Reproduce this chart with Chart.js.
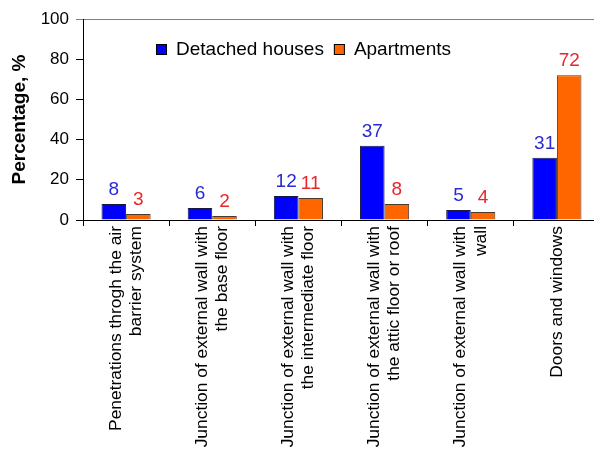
<!DOCTYPE html>
<html>
<head>
<meta charset="utf-8">
<script src="https://cdn.jsdelivr.net/npm/chart.js@4"></script>
<style>
html, body { margin: 0; padding: 0; background: #fff; overflow: hidden; }
#wrap { width: 600px; height: 450px; }
</style>
</head>
<body>
<div id="wrap"><canvas id="chart_leaks" width="600" height="450"></canvas></div>
<script>
var categories = [
    ['Penetrations throgh the air', 'barrier system'],
    ['Junction of external wall with', 'the base floor'],
    ['Junction of external wall with', 'the intermediate floor'],
    ['Junction of external wall with', 'the attic floor or roof'],
    ['Junction of external wall with', 'wall'],
    ['Doors and windows']
]
var detached = [8, 6, 12, 37, 5, 31]
var apartments = [3, 2, 11, 8, 4, 72]
var yTicks = [0, 20, 40, 60, 80, 100]
var seriesNames = ['Detached houses', 'Apartments']
var cores = ['#0000ff', '#ff6600']
var labelCores = ['#2a2ad2', '#e8262a']
var fontFamily = '"Liberation Sans", Arial, sans-serif'

Chart.defaults.font.family = fontFamily
Chart.defaults.color = '#000'

// numbers above the bars
var valueLabels = {
    id: 'valueLabels',
    afterDatasetsDraw: function(chart) {
        var ctx = chart.ctx
        ctx.save()
        ctx.font = '19px ' + fontFamily
        ctx.textAlign = 'center'
        ctx.textBaseline = 'alphabetic'
        chart.data.datasets.forEach(function(ds, i) {
            ctx.fillStyle = labelCores[i]
            chart.getDatasetMeta(i).data.forEach(function(bar, j) {
                ctx.fillText(ds.data[j], bar.x, bar.y - 9)
            })
        })
        ctx.restore()
    }
}

// legend sits inside the plot, left of centre
var legendBox = {
    id: 'legendBox',
    afterDraw: function(chart) {
        var ctx = chart.ctx
        var x = 156, y = 49
        ctx.save()
        ctx.font = '19px ' + fontFamily
        ctx.textBaseline = 'middle'
        chart.data.datasets.forEach(function(ds) {
            ctx.fillStyle = ds.backgroundColor
            ctx.fillRect(x, y - 5, 11, 11)
            ctx.strokeStyle = '#000'
            ctx.lineWidth = 1
            ctx.strokeRect(x + 0.5, y - 4.5, 10, 10)
            ctx.fillStyle = '#000'
            ctx.fillText(ds.label, x + 20, y + 1)
            x += 20 + ctx.measureText(ds.label).width + 10
        })
        ctx.restore()
    }
}

// centre multi-line rotated labels on their category
var centerLabels = {
    id: 'centerLabels',
    afterLayout: function(chart) {
        var scale = chart.scales.x
        scale.getLabelItems(chart.chartArea).forEach(function(item) {
            var lines = Array.isArray(item.label) ? item.label.length : 1
            item.options.translation[0] -= (lines - 1) * item.font.lineHeight / 2
        })
    }
}

var ctx = document.getElementById('chart_leaks')
var chartBars = new Chart(ctx, {
    type: 'bar',
    data: {
        labels: categories,
        datasets: [
            {
                label: seriesNames[0],
                data: detached,
                backgroundColor: cores[0],
                borderColor: '#1a1a40',
                borderWidth: 1
            },
            {
                label: seriesNames[1],
                data: apartments,
                backgroundColor: cores[1],
                borderColor: '#4a3a30',
                borderWidth: 1
            }
        ]
    },
    options: {
        responsive: false,
        animation: false,
        layout: { padding: { top: 19, left: 0, right: 0, bottom: 0 } },
        datasets: {
            bar: { barPercentage: 1, categoryPercentage: 0.57 }
        },
        plugins: {
            legend: { display: false },
            tooltip: { enabled: false }
        },
        scales: {
            x: {
                grid: { offset: true, drawOnChartArea: false, tickLength: 6, color: '#000', tickColor: '#000' },
                border: { color: '#000', width: 1 },
                ticks: {
                    autoSkip: false,
                    minRotation: 90,
                    maxRotation: 90,
                    padding: 0,
                    color: '#000',
                    font: { size: 17.4, lineHeight: 1.16 }
                },
                afterFit: function(scale) { scale.height = 230 }
            },
            y: {
                min: 0,
                max: 100,
                afterBuildTicks: function(scale) {
                    scale.ticks = yTicks.map(function(v) { return { value: v } })
                },
                ticks: { padding: 7, color: '#000', font: { size: 17 } },
                grid: {
                    tickLength: 7,
                    color: function(c) { return c.tick && c.tick.value === 100 ? '#808080' : 'rgba(0,0,0,0)' },
                    tickColor: function(c) { return c.tick && c.tick.value === 100 ? '#808080' : '#000' }
                },
                border: { color: '#000', width: 1 },
                title: {
                    display: true,
                    text: 'Percentage, %',
                    color: '#000',
                    font: { size: 19, weight: 'bold' },
                    padding: { top: 8, bottom: 0 }
                },
                afterFit: function(scale) { scale.width = 83 }
            }
        }
    },
    plugins: [valueLabels, legendBox, centerLabels]
})
</script>
</body>
</html>
